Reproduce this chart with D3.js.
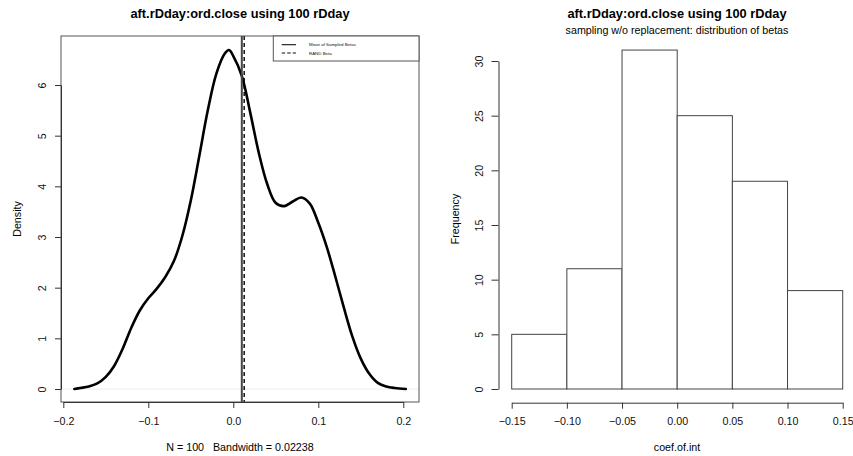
<!DOCTYPE html>
<html>
<head>
<meta charset="utf-8">
<script src="https://cdn.jsdelivr.net/npm/d3@7"></script>
<style>
  html, body { margin: 0; padding: 0; background: #fff; }
  svg { display: block; font-family: "Liberation Sans", Arial, Helvetica, sans-serif; }
  text { white-space: pre; }
</style>
</head>
<body>
<svg id="chart" width="853" height="456"></svg>
<script>
// Kernel density estimate of the sampled betas (x = beta, y = density)
const densityX = [-0.187, -0.18, -0.17, -0.16, -0.15, -0.14, -0.13, -0.12, -0.11, -0.10,
                  -0.09, -0.08, -0.07, -0.06, -0.05, -0.04, -0.03, -0.02, -0.01, -0.005,
                  0.00, 0.01, 0.02, 0.03, 0.04, 0.05, 0.06, 0.07, 0.08, 0.09,
                  0.10, 0.11, 0.12, 0.13, 0.14, 0.15, 0.16, 0.17, 0.18, 0.19, 0.203];
const densityY = [0.00, 0.02, 0.05, 0.11, 0.24, 0.46, 0.80, 1.21, 1.55, 1.79,
                  1.98, 2.21, 2.52, 3.02, 3.72, 4.60, 5.50, 6.22, 6.62, 6.69,
                  6.57, 6.18, 5.45, 4.66, 4.04, 3.67, 3.61, 3.70, 3.78, 3.66,
                  3.28, 2.80, 2.22, 1.61, 1.04, 0.60, 0.30, 0.12, 0.05, 0.02, 0.00];
const meanBeta = 0.0100;   // mean of sampled betas
const randBeta = 0.0128;   // RAND beta
const densityXTicks = [-0.2, -0.1, 0.0, 0.1, 0.2];
const densityYTicks = [0, 1, 2, 3, 4, 5, 6];
const legendLabels = ["Mean of Sampled Betas", "RAND Beta"];

// Histogram of betas
const binEdges = [-0.15, -0.10, -0.05, 0.00, 0.05, 0.10, 0.15];
const binCounts = [5, 11, 31, 25, 19, 9];
const histXTicks = [-0.15, -0.10, -0.05, 0.00, 0.05, 0.10, 0.15];
const histYTicks = [0, 5, 10, 15, 20, 25, 30];

const titleText = "aft.rDday:ord.close using 100 rDday";
const subTitle = "sampling w/o replacement: distribution of betas";
const densitySub = "N = 100   Bandwidth = 0.02238";

const svg = d3.select("#chart");
const FS = 10.7, TFS = 12.8;
const axisColor = "#333";

// R-style axis: thin dark lines, labels parallel to the axis
function styleAxis(g, vertical) {
  g.selectAll(".domain").attr("stroke", axisColor);
  g.selectAll(".tick line").attr("stroke", axisColor);
  const t = g.selectAll(".tick text").attr("font-size", FS).attr("fill", "#111");
  if (vertical) {
    t.attr("text-anchor", "middle").attr("x", null)
      .attr("transform", "translate(-19,0) rotate(-90)").attr("dy", "0.35em");
  }
  g.attr("font-family", null);
}

// ---------- Left panel: density ----------
const L = { left: 61, right: 419, top: 36, bottom: 402 };
const xD = d3.scaleLinear().domain([-0.2, 0.2]).range([63.3, 403.3]);
const yD = d3.scaleLinear().domain([0, 6]).range([389, 85]);

svg.append("text").attr("x", (L.left + L.right) / 2).attr("y", 17.5)
  .attr("text-anchor", "middle").attr("font-weight", "bold").attr("font-size", TFS)
  .text(titleText);

// zero line
svg.append("line").attr("x1", L.left).attr("x2", L.right)
  .attr("y1", yD(0)).attr("y2", yD(0)).attr("stroke", "#ececec").attr("stroke-width", 1);

const pts = densityX.map((x, i) => [x, densityY[i]]);
svg.append("path").datum(pts)
  .attr("fill", "none").attr("stroke", "#000").attr("stroke-width", 2.6)
  .attr("stroke-linejoin", "round").attr("stroke-linecap", "round")
  .attr("d", d3.line().x(d => xD(d[0])).y(d => yD(d[1])).curve(d3.curveCatmullRom.alpha(0.5)));

// reference lines
svg.append("line").attr("x1", xD(meanBeta)).attr("x2", xD(meanBeta))
  .attr("y1", L.top).attr("y2", L.bottom).attr("stroke", "#444").attr("stroke-width", 2);
svg.append("line").attr("x1", xD(randBeta)).attr("x2", xD(randBeta))
  .attr("y1", L.top).attr("y2", L.bottom).attr("stroke", "#000").attr("stroke-width", 1.4)
  .attr("stroke-dasharray", "4,3");

// plot box
svg.append("rect").attr("x", L.left).attr("y", L.top)
  .attr("width", L.right - L.left).attr("height", L.bottom - L.top)
  .attr("fill", "none").attr("stroke", "#555").attr("stroke-width", 1);

// axes
const gxD = svg.append("g").attr("transform", `translate(0,${L.bottom})`)
  .call(d3.axisBottom(xD).tickValues(densityXTicks).tickFormat(d3.format(".1f"))
    .tickSize(6).tickSizeOuter(0).tickPadding(9));
styleAxis(gxD, false);
const gyD = svg.append("g").attr("transform", `translate(${L.left},0)`)
  .call(d3.axisLeft(yD).tickValues(densityYTicks).tickFormat(d3.format("d"))
    .tickSize(6).tickSizeOuter(0).tickPadding(0));
styleAxis(gyD, true);

svg.append("text").attr("x", (L.left + L.right) / 2).attr("y", 451)
  .attr("text-anchor", "middle").attr("font-size", FS).text(densitySub);
svg.append("text").attr("transform", `translate(17,${(L.top + L.bottom) / 2}) rotate(-90)`)
  .attr("dy", "0.35em").attr("text-anchor", "middle").attr("font-size", FS).text("Density");

// legend
const lg = svg.append("g");
lg.append("rect").attr("x", 273.3).attr("y", L.top).attr("width", L.right - 273.3).attr("height", 25)
  .attr("fill", "#fff").attr("stroke", "#555").attr("stroke-width", 1);
legendLabels.forEach((lab, i) => {
  const yy = 44.7 + i * 8.3;
  lg.append("line").attr("x1", 281.7).attr("x2", 296).attr("y1", yy).attr("y2", yy)
    .attr("stroke", "#111").attr("stroke-width", 1.1)
    .attr("stroke-dasharray", i === 1 ? "3.5,2" : null);
  lg.append("text").attr("x", 309).attr("y", yy).attr("dy", "0.35em")
    .attr("font-size", 4.4).attr("fill", "#111").text(lab);
});

// ---------- Right panel: histogram ----------
const xH = d3.scaleLinear().domain([-0.15, 0.15]).range([511.7, 842.7]);
const yH = d3.scaleLinear().domain([0, 30]).range([389, 61]);
const axisXH = 498.5, axisYH = 402.7;
const cx = 677;

svg.append("text").attr("x", cx).attr("y", 17.5)
  .attr("text-anchor", "middle").attr("font-weight", "bold").attr("font-size", TFS)
  .text(titleText);
svg.append("text").attr("x", cx).attr("y", 34.3)
  .attr("text-anchor", "middle").attr("font-size", FS).text(subTitle);

svg.append("g").selectAll("rect").data(binCounts).join("rect")
  .attr("x", (d, i) => xH(binEdges[i]))
  .attr("y", d => yH(d))
  .attr("width", (d, i) => xH(binEdges[i + 1]) - xH(binEdges[i]))
  .attr("height", d => yH(0) - yH(d))
  .attr("fill", "#fff").attr("stroke", "#444").attr("stroke-width", 1);

const gxH = svg.append("g").attr("transform", `translate(0,${axisYH})`)
  .call(d3.axisBottom(xH).tickValues(histXTicks).tickFormat(d3.format(".2f"))
    .tickSize(6).tickSizeOuter(0).tickPadding(9));
styleAxis(gxH, false);
const gyH = svg.append("g").attr("transform", `translate(${axisXH},0)`)
  .call(d3.axisLeft(yH).tickValues(histYTicks).tickFormat(d3.format("d"))
    .tickSize(7).tickSizeOuter(0).tickPadding(0));
styleAxis(gyH, true);

svg.append("text").attr("x", cx).attr("y", 451)
  .attr("text-anchor", "middle").attr("font-size", FS).text("coef.of.int");
svg.append("text").attr("transform", `translate(455,219) rotate(-90)`)
  .attr("dy", "0.35em").attr("text-anchor", "middle").attr("font-size", FS).text("Frequency");
</script>
</body>
</html>
